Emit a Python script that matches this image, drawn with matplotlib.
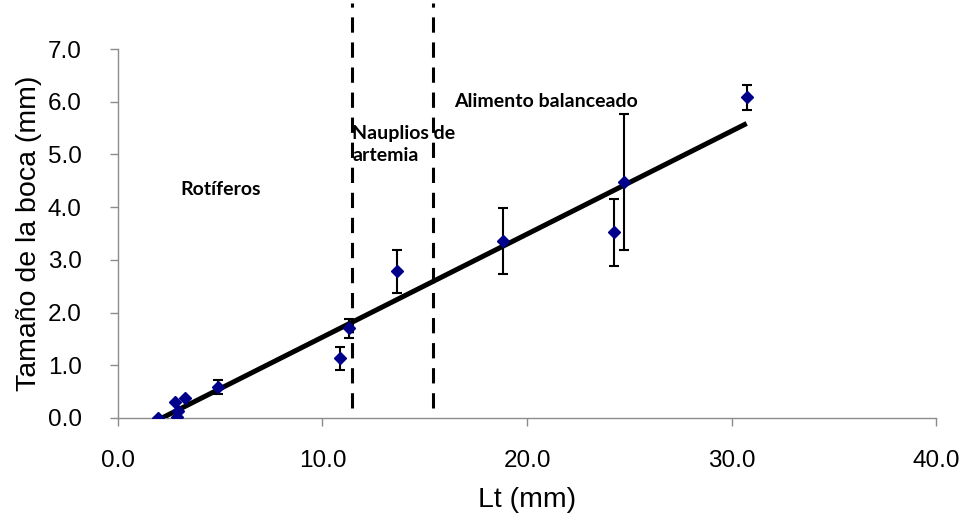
import numpy as np
import matplotlib
matplotlib.use("Agg")
import matplotlib.pyplot as plt

# Mouth size vs. total length
lt_mm = [1.96, 2.79, 2.88, 2.93, 3.28, 4.89, 10.88, 11.31, 13.66, 18.81, 24.25, 24.74, 30.74]
boca_mm = [0.00, 0.30, 0.02, 0.13, 0.38, 0.59, 1.13, 1.70, 2.78, 3.36, 3.52, 4.47, 6.08]
boca_err = [0.00, 0.00, 0.00, 0.00, 0.00, 0.14, 0.22, 0.18, 0.40, 0.62, 0.64, 1.29, 0.24]

# Feeding-stage boundaries (Lt, mm)
limites = [11.42, 15.42]
etapas = ["Rotíferos", "Nauplios de\nartemia", "Alimento balanceado"]
etapas_pos = [(3.05, 4.33), (11.45, 5.19), (16.45, 6.0)]

x_ticks = [0, 10, 20, 30, 40]
y_ticks = [0, 1, 2, 3, 4, 5, 6, 7]

narrow = ['Liberation Sans Narrow', 'Liberation Sans', 'DejaVu Sans']
plt.rcParams['font.family'] = ['Liberation Sans', 'DejaVu Sans']

fig = plt.figure(figsize=(9.71, 5.23), dpi=100)
ax = fig.add_axes([0.1215, 0.2008, 0.964 - 0.1215, 0.9063 - 0.2008])

ax.set_xlim(0, 40)
ax.set_ylim(0, 7)

# stage boundaries, extending above the plot area
for xv in limites:
    ax.plot([xv, xv], [0.19, 7.88], color='black', lw=2.2,
            linestyle=(0, (5, 3.2)), clip_on=False, zorder=2)

# linear trend
coef = np.polyfit(lt_mm, boca_mm, 1)
xs = np.array([min(lt_mm), max(lt_mm)])
ax.plot(xs, np.polyval(coef, xs), color='black', lw=3.6, zorder=3,
        solid_capstyle='butt')

ax.errorbar(lt_mm, boca_mm, yerr=boca_err, fmt='D', color='#00008B',
            markersize=6.5, ecolor='black', elinewidth=1.5, capsize=3.5,
            capthick=1.5, zorder=4)

for txt, (tx, ty) in zip(etapas, etapas_pos):
    ax.text(tx, ty, txt, fontsize=14, fontweight='bold', family=['Lato', 'DejaVu Sans'],
            ha='left', va='center', linespacing=1.3)

ax.set_xticks(x_ticks)
ax.set_xticklabels([f"{v:.1f}" for v in x_ticks], family=narrow, fontsize=17.5)
ax.set_yticks(y_ticks)
ax.set_yticklabels([f"{v:.1f}" for v in y_ticks], family=narrow, fontsize=17.5)

for s in ['top', 'right']:
    ax.spines[s].set_visible(False)
for s in ['left', 'bottom']:
    ax.spines[s].set_color('#8c8c8c')
    ax.spines[s].set_linewidth(1.0)
ax.tick_params(axis='both', direction='out', length=6, width=1.0, color='#8c8c8c')
ax.tick_params(axis='y', pad=20)
ax.tick_params(axis='x', pad=17)

ax.set_xlabel("Lt (mm)", fontsize=20.5, family=narrow, labelpad=11)
ax.set_ylabel("Tamaño de la boca (mm)", fontsize=20.5, labelpad=4)

fig.savefig("out.png", dpi=100)
